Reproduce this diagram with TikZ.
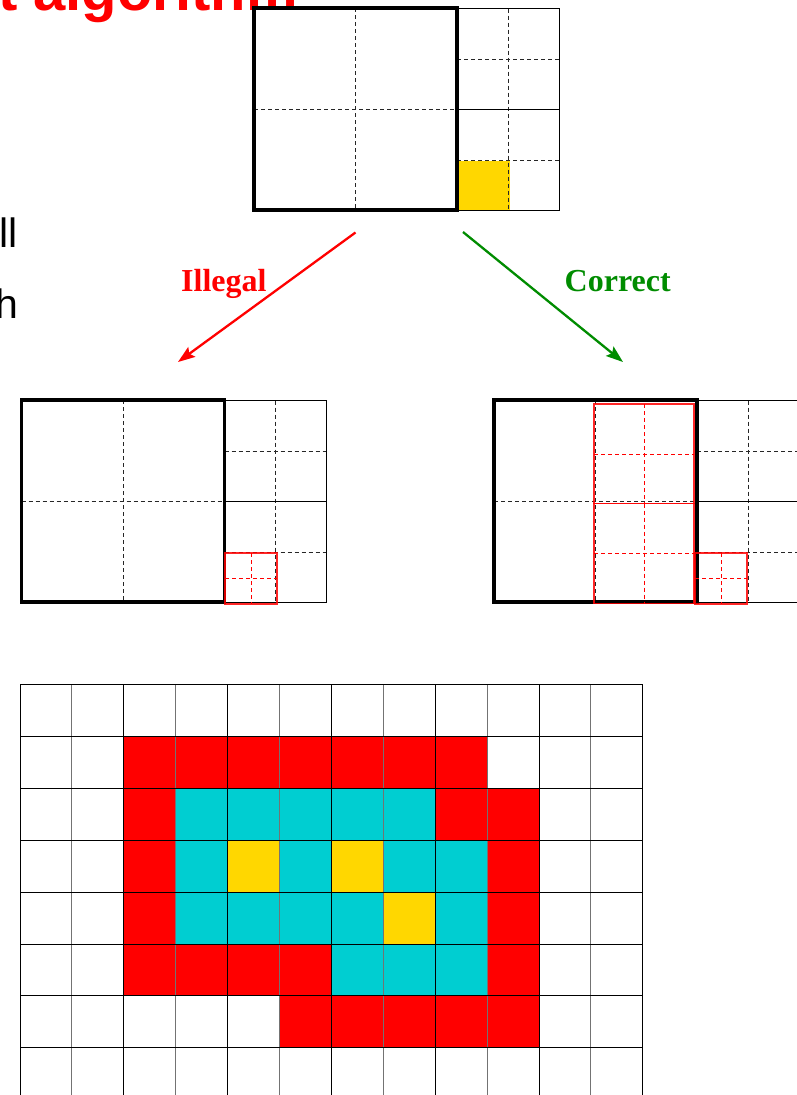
\documentclass[tikz,border=0pt]{standalone}
\usepackage{fontspec}
\newfontfamily\arialf{Liberation Sans}
\newfontfamily\timesf{Liberation Serif}
\usetikzlibrary{arrows.meta}
\definecolor{cyanc}{HTML}{00CED1}
\definecolor{goldc}{HTML}{FFD700}
\definecolor{greenc}{RGB}{0,140,0}
\tikzset{
  thickbox/.style={line width=3.8pt, line join=miter, black},
  thinline/.style={line width=0.9pt, black},
  greyline/.style={line width=0.9pt, black!55},
  dashline/.style={line width=0.9pt, black!85, dash pattern=on 4pt off 3pt},
  redbox/.style={line width=1.3pt, red, opacity=0.85},
  reddash/.style={line width=0.9pt, red, dash pattern=on 4pt off 3pt},
  arrowline/.style={line width=2.3pt, -{Stealth[length=17pt,width=12pt,inset=3pt]}},
  lbl/.style={inner sep=0pt, font=\timesf\bfseries\fontsize{32}{36}\selectfont},
}
\newcommand\qtdiagram[2]{%
  \begin{scope}[shift={(#1,#2)}]
    \draw[dashline] (101.5,0) -- (101.5,202);
    \draw[dashline] (0,101) -- (203,101);
    \draw[dashline] (254,0.5) -- (254,202.5);
    \draw[dashline] (203,51) -- (305,51);
    \draw[dashline] (203,152) -- (305,152);
    \draw[thinline] (203,0.5) rectangle (305,202.5);
    \draw[thinline] (203,101.5) -- (305,101.5);
    \draw[thickbox] (0,0) rectangle (203,202);
  \end{scope}}
\newcommand\gridcell[3]{\fill[#1] ({20+51.9*#2},{684.5+51.9*#3}) rectangle ++(51.9,51.9);}
\begin{document}
\begin{tikzpicture}[x=1pt,y=-1pt]
\useasboundingbox[fill=white] (0,0) rectangle (796,1095);

% title and side text
\node[anchor=base east, inner sep=0pt, text=red, font=\arialf\bfseries\fontsize{58}{60}\selectfont] (title) at (298,10) {t algorithm};
\node[anchor=base east, inner sep=0pt, font=\arialf\fontsize{41}{44}\selectfont] (sideA) at (18,247) {ll};
\node[anchor=base east, inner sep=0pt, font=\arialf\fontsize{41}{44}\selectfont] (sideB) at (18.5,318) {h};

% top diagram
\fill[goldc] (458,161) rectangle (509.5,210.5);
\qtdiagram{254}{8}

% lower-left diagram
\qtdiagram{21.5}{400}
\draw[reddash] (251,553) -- (251,604);
\draw[reddash] (225,578.5) -- (277,578.5);
\draw[redbox] (225,553) rectangle (277,604);

% lower-right diagram
\qtdiagram{494}{400}
\draw[reddash] (644,404) -- (644,503.5);
\draw[reddash] (594,454) -- (694,454);
\draw[redbox] (594,404) rectangle (694,503.5);
\draw[reddash] (644,503.5) -- (644,603.5);
\draw[reddash] (594,553.5) -- (694,553.5);
\draw[redbox] (594,503.5) rectangle (694,603.5);
\draw[reddash] (721,553) -- (721,604);
\draw[reddash] (695,578.5) -- (747,578.5);
\draw[redbox] (695,553) rectangle (747,604);

% arrows and labels
\coordinate (illS) at (355.5,232.5);
\coordinate (illE) at (178,362);
\coordinate (corS) at (463,232);
\coordinate (corE) at (623,362);
\draw[arrowline, red] (illS) -- (illE);
\draw[arrowline, greenc] (corS) -- (corE);
\node[lbl, text=red, anchor=base west] (illegal) at (181,291) {Illegal};
\node[lbl, text=greenc, anchor=base west] (correct) at (564.5,291.5) {Correct};

% bottom grid: coloured cells
\foreach \c in {2,...,8} {\gridcell{red}{\c}{1}}
\foreach \c/\r in {2/2,8/2,9/2,2/3,9/3,2/4,9/4,2/5,3/5,4/5,5/5,9/5,5/6,6/6,7/6,8/6,9/6} {\gridcell{red}{\c}{\r}}
\foreach \c/\r in {3/2,4/2,5/2,6/2,7/2,3/3,5/3,7/3,8/3,3/4,4/4,5/4,6/4,8/4,6/5,7/5,8/5} {\gridcell{cyanc}{\c}{\r}}
\foreach \c/\r in {4/3,6/3,7/4} {\gridcell{goldc}{\c}{\r}}

% bottom grid: lines
\foreach \i in {1,3,...,11} {\draw[greyline] ({20+51.9*\i},684.5) -- ({20+51.9*\i},1100);}
\foreach \i in {0,2,...,12} {\draw[thinline] ({20+51.9*\i},684.5) -- ({20+51.9*\i},1100);}
\foreach \j in {0,...,8} {\draw[thinline] (20,{684.5+51.9*\j}) -- (643,{684.5+51.9*\j});}
\end{tikzpicture}
\end{document}
